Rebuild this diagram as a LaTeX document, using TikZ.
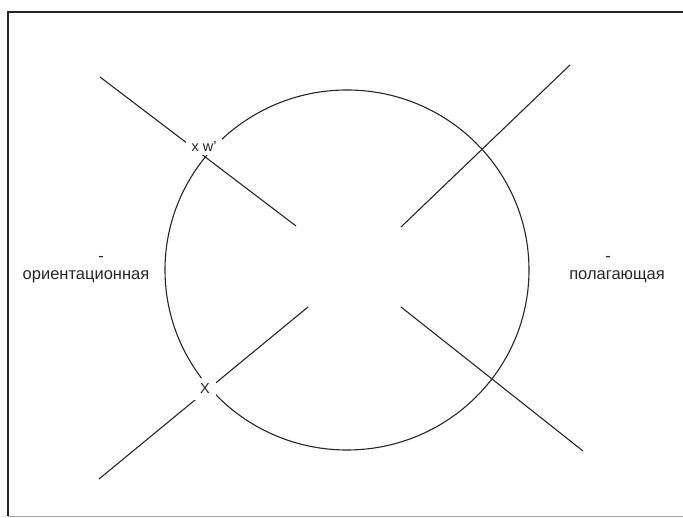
\documentclass[tikz,border=0pt]{standalone}
\usepackage{fontspec}
\setmainfont{Liberation Sans}
\tikzset{
  ray/.style={line width=1.1pt, black!85},
  ring/.style={line width=1.1pt, black!85},
  frameline/.style={line width=1.4pt, black!85},
  bigtxt/.style={inner sep=0pt, anchor=base, font=\fontsize{16.5}{18}\selectfont, text=black!85},
  marklbl/.style={fill=white, inner sep=6pt, font=\fontsize{14.5}{16}\selectfont, text=black!85}
}
\begin{document}
\begin{tikzpicture}[x=1pt,y=-1pt]
\useasboundingbox (0,0) rectangle (683,518);
% frame
\coordinate (f1) at (683,12);
\coordinate (f2) at (8,12);
\coordinate (f3) at (8,516);
\coordinate (f4) at (683,516);
\draw[frameline] (f1) -- (f2) -- (f3);
\draw[line width=1pt, black!35] (f3) -- (f4);
% circle
\coordinate (c) at (347,270);
\draw[ring] (c) ellipse[x radius=182, y radius=180];
% rays
\coordinate (ul1) at (100,77);
\coordinate (ul2) at (296,226);
\coordinate (ur1) at (570,65);
\coordinate (ur2) at (401,227);
\coordinate (ll1) at (99,479);
\coordinate (ll2) at (308,307);
\coordinate (lr1) at (583,451);
\coordinate (lr2) at (401,307);
\draw[ray] (ul1) -- (ul2);
\draw[ray] (ur1) -- (ur2);
\draw[ray] (ll1) -- (ll2);
\draw[ray] (lr1) -- (lr2);
% labels at intersections
\node[marklbl, inner xsep=6pt, inner ysep=3pt] (w) at (204,147) {x w'};
\node[marklbl] (X) at (205,389) {X};
% side texts
\node[bigtxt] (lt) at (86,280) {ориентационная};
\node[bigtxt] (rt) at (617,280) {полагающая};
\node[bigtxt] (lh) at (101,262) {-};
\node[bigtxt] (rh) at (608,262) {-};
\end{tikzpicture}
\end{document}
